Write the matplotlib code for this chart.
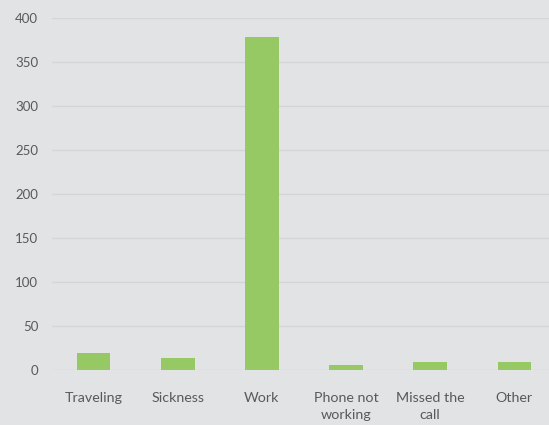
import matplotlib.pyplot as plt

categories = ["Traveling", "Sickness", "Work", "Phone not\nworking", "Missed the\ncall", "Other"]
counts = [19, 14, 378, 6, 9, 9]
yticks = [0, 50, 100, 150, 200, 250, 300, 350, 400]

bg = "#e2e3e5"
plt.rcParams["font.family"] = ["Lato", "DejaVu Sans"]

fig = plt.figure(figsize=(5.49, 4.25), dpi=100, facecolor=bg)
ax = fig.add_axes([51.5 / 549, 55 / 425, 505 / 549, 352 / 425])
ax.set_facecolor(bg)

x = range(len(categories))
ax.bar(x, counts, width=0.4, color="#96c963", zorder=3)

ax.set_xlim(-0.5, len(categories) - 0.5)
ax.set_ylim(0, 400)
ax.set_yticks(yticks)
ax.set_xticks(list(x))
ax.set_xticklabels(categories, linespacing=1.55, fontsize=10.3)
ax.grid(axis="y", color="#d4d5d7", linewidth=1, zorder=0)
ax.set_axisbelow(True)
for s in ax.spines.values():
    s.set_visible(False)
ax.tick_params(length=0, labelsize=9.5, colors="#595959")
ax.tick_params(axis="x", pad=15.5, labelsize=10.3)
ax.tick_params(axis="y", pad=9.5)

fig.savefig("out.png", dpi=100, facecolor=bg)
